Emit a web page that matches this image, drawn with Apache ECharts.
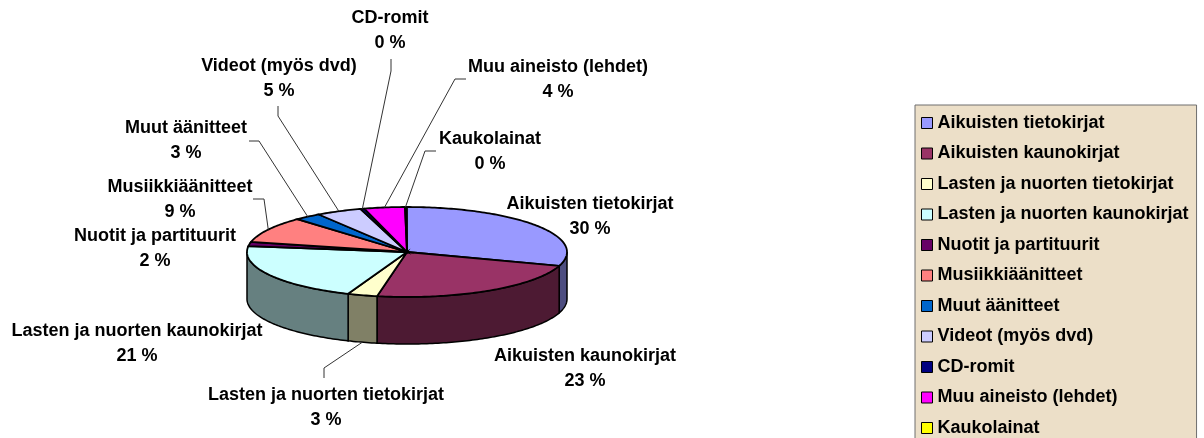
<!DOCTYPE html>
<html lang="fi">
<head>
    <meta charset="UTF-8">
    <title>Lainaus aineistolajeittain</title>
    <script src="https://cdn.jsdelivr.net/npm/echarts@6/dist/echarts.min.js"></script>
    <style>
        html, body { margin: 0; padding: 0; background: #fff; overflow: hidden; }
        #chart { width: 1204px; height: 438px; }
    </style>
</head>
<body>
    <div id="chart"></div>

    <script>
        const categories = ['Aikuisten tietokirjat', 'Aikuisten kaunokirjat', 'Lasten ja nuorten tietokirjat',
            'Lasten ja nuorten kaunokirjat', 'Nuotit ja partituurit', 'Musiikkiäänitteet', 'Muut äänitteet',
            'Videot (myös dvd)', 'CD-romit', 'Muu aineisto (lehdet)', 'Kaukolainat'];
        const shares = [30.0, 23.0, 3.0, 21.1, 1.5, 9.4, 2.7, 4.6, 0.4, 4.1, 0.1];
        const colors = ['#9999ff', '#993366', '#ffffcc', '#ccffff', '#660066', '#ff8080', '#0066cc',
            '#ccccff', '#000080', '#ff00ff', '#ffff00'];

        // label centres (px) and leader line bends, by category
        const labelCenters = [[590, 217], [585, 369], [326, 408], [137, 344], [155, 249], [180, 200],
            [186, 141], [279, 79], [390, 31], [558, 80], [490, 152]];
        const leaderBends = [null, null, [[324, 378], [324, 368]], null, null, [[253, 199], [264, 199]],
            [[249, 141], [259, 141]], [[278, 106], [278, 116]], [[391, 59], [391, 71]],
            [[466, 79], [455, 79]], [[436, 151], [425, 151]]];

        // pie geometry
        const cx = 407, cy = 252, rx = 160, ry = 45, depth = 47;
        const font = 'bold 18px "Liberation Sans", Arial, sans-serif';

        function rimPoint(angle, drop) {
            return [cx + rx * Math.sin(angle), cy - ry * Math.cos(angle) + (drop || 0)];
        }

        function arc(from, to, drop) {
            const steps = Math.max(2, Math.ceil((to - from) / (Math.PI / 180)));
            const pts = [];
            for (let i = 0; i <= steps; i++) {
                pts.push(rimPoint(from + (to - from) * i / steps, drop));
            }
            return pts;
        }

        // side wall is the top colour at half brightness
        function darken(hex) {
            const n = parseInt(hex.slice(1), 16);
            return 'rgb(' + [(n >> 16) & 255, (n >> 8) & 255, n & 255].map(c => Math.round(c / 2)).join(',') + ')';
        }

        function renderSlice(index) {
            return function (params, api) {
                const start = api.value(0) / 100 * Math.PI * 2;
                const end = start + api.value(1) / 100 * Math.PI * 2;
                const children = [];

                // front wall only between 90 and 270 degrees
                const wallFrom = Math.max(start, Math.PI / 2);
                const wallTo = Math.min(end, Math.PI * 1.5);
                if (wallTo > wallFrom) {
                    children.push({
                        type: 'polygon',
                        shape: { points: arc(wallFrom, wallTo, 0).concat(arc(wallFrom, wallTo, depth).reverse()) },
                        style: { fill: darken(colors[index]), stroke: '#000', lineWidth: 1.5 }
                    });
                }

                children.push({
                    type: 'polygon',
                    shape: { points: [[cx, cy]].concat(arc(start, end, 0)) },
                    style: { fill: colors[index], stroke: '#000', lineWidth: 1.8 }
                });

                const bends = leaderBends[index];
                if (bends) {
                    const mid = (start + end) / 2;
                    const front = mid > Math.PI / 2 && mid < Math.PI * 1.5;
                    children.push({
                        type: 'polyline',
                        shape: { points: bends.concat([rimPoint(mid, front ? depth : 0)]) },
                        style: { fill: null, stroke: '#333', lineWidth: 1 }
                    });
                }

                children.push({
                    type: 'text',
                    style: {
                        x: labelCenters[index][0],
                        y: labelCenters[index][1],
                        text: categories[index] + '\n' + Math.round(api.value(1)) + ' %',
                        font: font,
                        lineHeight: 25,
                        fill: '#000',
                        align: 'center',
                        verticalAlign: 'middle'
                    }
                });

                return { type: 'group', children: children };
            };
        }

        let running = 0;
        const series = categories.map((name, i) => {
            const item = {
                name: name,
                type: 'custom',
                coordinateSystem: 'none',
                z: 2 + i,
                silent: true,
                itemStyle: { color: colors[i] },
                data: [[running, shares[i]]],
                renderItem: renderSlice(i)
            };
            running += shares[i];
            return item;
        });

        const chart = echarts.init(document.getElementById('chart'));
        chart.setOption({
            animation: false,
            backgroundColor: '#fff',
            legend: {
                data: categories,
                orient: 'vertical',
                left: 915,
                top: 105,
                height: 400,
                padding: [9, 8, 6, 6],
                icon: 'rect',
                itemWidth: 11,
                itemHeight: 11,
                itemGap: 12.5,
                backgroundColor: '#ecdfc8',
                borderColor: '#6e6e6e',
                borderWidth: 1,
                itemStyle: { borderColor: '#000', borderWidth: 1 },
                selectedMode: false,
                textStyle: { fontFamily: '"Liberation Sans", Arial, sans-serif', fontWeight: 'bold', fontSize: 18, color: '#000', lineHeight: 18 }
            },
            series: series
        });
    </script>
</body>
</html>
